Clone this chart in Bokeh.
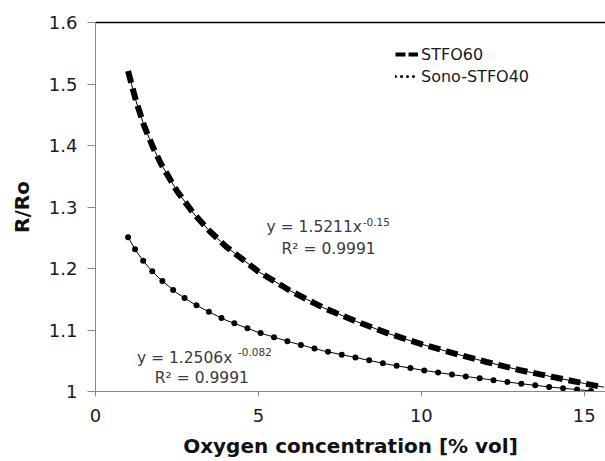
from bokeh.plotting import figure
from bokeh.models import (ColumnDataSource, FixedTicker, LinearAxis, Legend, LegendItem,
                          Label, Range1d)
from bokeh.embed import file_html
from bokeh.resources import INLINE

# ---- data ----
x_vals = [1, 1.25, 1.5, 1.75, 2, 2.5, 3, 3.5, 4, 5, 6, 7, 8, 9, 10, 11, 12, 13, 14, 15, 15.6]
stfo60 = [1.521, 1.471, 1.431, 1.399, 1.371, 1.326, 1.290, 1.261, 1.236, 1.195, 1.163,
          1.136, 1.114, 1.094, 1.077, 1.062, 1.048, 1.035, 1.024, 1.013, 1.007]
sono_stfo40 = [1.251, 1.228, 1.210, 1.195, 1.182, 1.160, 1.143, 1.129, 1.116, 1.096, 1.080,
               1.066, 1.055, 1.044, 1.035, 1.027, 1.020, 1.013, 1.007, 1.002, 0.998]
series_names = ["STFO60", "Sono-STFO40"]
fit_labels = ["y = 1.5211x", "-0.15", "R\u00b2 = 0.9991",
              "y = 1.2506x", "-0.082", "R\u00b2 = 0.9991"]
x_ticks = [0, 5, 10, 15]
y_ticks = [1, 1.1, 1.2, 1.3, 1.4, 1.5, 1.6]
y_tick_labels = ["1", "1.1", "1.2", "1.3", "1.4", "1.5", "1.6"]

FONT = "DejaVu Sans"

p = figure(width=605, height=461, output_backend="svg", toolbar_location=None,
           x_range=Range1d(0, 15.65), y_range=Range1d(1.0, 1.6),
           min_border_left=95, min_border_right=0, min_border_top=22, min_border_bottom=70)
p.outline_line_color = None
p.xgrid.visible = False
p.ygrid.visible = False
p.background_fill_color = "white"
# range far outside the view, used only by the legend swatch renderers
p.extra_y_ranges = {"legend_only": Range1d(100, 101)}

src = ColumnDataSource(dict(x=x_vals, a=stfo60, b=sono_stfo40))

# data series
p.line("x", "a", source=src, line_color="black", line_width=6, line_dash="12 6")
p.line("x", "b", source=src, line_color="black", line_width=6, line_dash="0 14",
       line_cap="round")
# power trendlines (thin)
p.line("x", "a", source=src, line_color="black", line_width=1)
p.line("x", "b", source=src, line_color="black", line_width=1)

# legend swatch renderers (drawn outside the visible range)
r_leg1 = p.line("x", "a", source=src, y_range_name="legend_only", line_color="black",
                line_width=4, line_dash="10 3")
r_leg2 = p.line("x", "b", source=src, y_range_name="legend_only", line_color="black",
                line_width=3, line_dash="0 6", line_cap="round")
legend = Legend(items=[LegendItem(label=series_names[0], renderers=[r_leg1]),
                       LegendItem(label=series_names[1], renderers=[r_leg2])],
                location=(300, 305), padding=0, margin=0, spacing=2,
                glyph_width=23, glyph_height=20, label_height=20, label_standoff=3,
                border_line_color=None, background_fill_alpha=0,
                label_text_font=FONT, label_text_font_size="16px", label_text_color="#1a1a1a")
p.add_layout(legend)

# axes
p.xaxis.ticker = FixedTicker(ticks=x_ticks)
p.yaxis.ticker = FixedTicker(ticks=y_ticks)
p.yaxis.major_label_overrides = {t: l for t, l in zip(y_ticks, y_tick_labels)}
for ax in (p.xaxis[0], p.yaxis[0]):
    ax.axis_line_color = "#888888"
    ax.major_tick_line_color = "#888888"
    ax.minor_tick_line_color = None
    ax.major_tick_in = 0
    ax.major_label_text_font = FONT
    ax.major_label_text_font_size = "18px"
    ax.major_label_text_color = "#1a1a1a"
    ax.axis_label_text_font = FONT
    ax.axis_label_text_font_size = "20px"
    ax.axis_label_text_font_style = "bold"
    ax.axis_label_text_color = "#111111"
p.yaxis.major_tick_out = 8
p.yaxis.major_label_standoff = 10
p.yaxis.axis_label = "R/Ro"
p.yaxis.axis_label_standoff = 12
p.xaxis.major_tick_out = 5
p.xaxis.major_label_standoff = 12
p.xaxis.axis_label = "Oxygen concentration [% vol]"
p.xaxis.axis_label_standoff = 9

top = LinearAxis(ticker=FixedTicker(ticks=[]), axis_line_color="black", axis_line_width=1.5,
                 major_tick_line_color=None, minor_tick_line_color=None,
                 major_label_text_font_size="0px")
p.add_layout(top, "above")

# fit annotations
ann_style = dict(text_font=FONT, text_color="#3a3a3a", text_baseline="alphabetic")
p.add_layout(Label(x=5.25, y=1.268, text=fit_labels[0], text_font_size="15.5px", **ann_style))
p.add_layout(Label(x=8.2, y=1.276, text=fit_labels[1], text_font_size="10.5px", **ann_style))
p.add_layout(Label(x=5.71, y=1.232, text=fit_labels[2], text_font_size="15.5px", **ann_style))
p.add_layout(Label(x=1.27, y=1.055, text=fit_labels[3], text_font_size="15.5px", **ann_style))
p.add_layout(Label(x=4.37, y=1.065, text=fit_labels[4], text_font_size="10.5px", **ann_style))
p.add_layout(Label(x=1.82, y=1.0225, text=fit_labels[5], text_font_size="15.5px", **ann_style))

open("out.html", "w").write(file_html(p, INLINE))
